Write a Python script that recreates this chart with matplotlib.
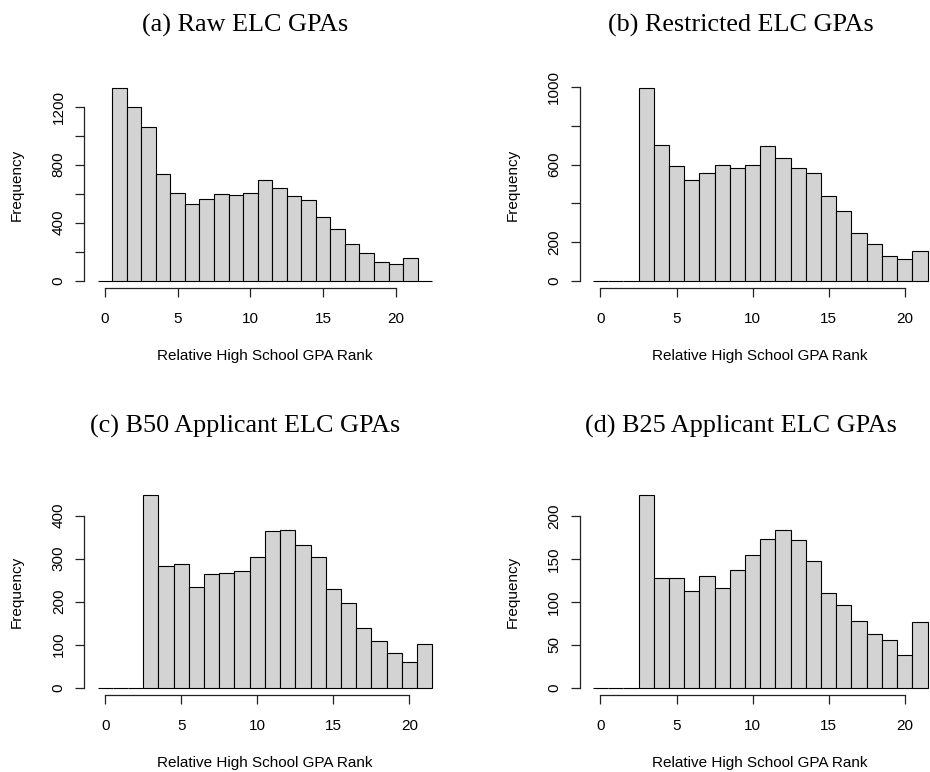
import numpy as np
import matplotlib
matplotlib.use("Agg")
import matplotlib.pyplot as plt

plt.rcParams.update({"font.family": "Liberation Sans", "font.size": 11,
                     "axes.linewidth": 0.9})

# bin centres (rank) and counts
ranks_raw = list(range(0, 23))
raw_counts = [0, 1326, 1200, 1062, 738, 605, 529, 561, 600, 591, 605, 694,
              637, 584, 554, 437, 359, 251, 191, 131, 113, 154, 0]

ranks_sub = list(range(0, 22))
restricted_counts = [0, 0, 0, 995, 703, 591, 522, 556, 598, 582, 601, 698,
                     634, 582, 556, 437, 359, 247, 190, 128, 111, 152]
b50_counts = [0, 0, 0, 447, 284, 287, 234, 264, 266, 271, 303, 364,
              367, 331, 305, 230, 196, 140, 109, 81, 60, 102]
b25_counts = [0, 0, 0, 224, 128, 128, 113, 130, 116, 137, 155, 173,
              184, 172, 148, 110, 96, 78, 63, 56, 38, 77]

titles = ["(a) Raw ELC GPAs", "(b) Restricted ELC GPAs",
          "(c) B50 Applicant ELC GPAs", "(d) B25 Applicant ELC GPAs"]
x_ticks = [0, 5, 10, 15, 20]
y_ticks = [[0, 200, 400, 600, 800, 1000, 1200],
           [0, 200, 400, 600, 800, 1000],
           [0, 100, 200, 300, 400],
           [0, 50, 100, 150, 200]]
y_labels = [["0", "", "400", "", "800", "", "1200"],
            ["0", "200", "", "600", "", "1000"],
            ["0", "100", "200", "300", "400"],
            ["0", "50", "100", "150", "200"]]

W, H = 930, 772
fig = plt.figure(figsize=(W / 100, H / 100), dpi=100)

# axes boxes in pixels: left, top, width, height (right column runs past the crop)
boxes = [(84.2, 80.7, 361.4, 207.7), (579.5, 80.7, 361.4, 207.7),
         (84.2, 487.8, 361.4, 207.6), (579.5, 487.8, 361.4, 207.6)]
title_pos = [(245.5, 25), (741, 25), (245, 426), (740.5, 426)]

panels = [(ranks_raw, raw_counts), (ranks_sub, restricted_counts),
          (ranks_sub, b50_counts), (ranks_sub, b25_counts)]

for i, (ranks, counts) in enumerate(panels):
    l, t, w, h = boxes[i]
    ax = fig.add_axes([l / W, 1 - (t + h) / H, w / W, h / H])
    ax.bar(ranks, counts, width=1.0, color="#d3d3d3", edgecolor="black",
           linewidth=0.8, align="center")
    # R-style 4% padding around the range
    lo, hi = ranks[0] - 0.5, ranks[-1] + 0.5
    ax.set_xlim(lo - 0.04 * (hi - lo), hi + 0.04 * (hi - lo))
    top = max(counts)
    ax.set_ylim(-0.04 * top, 1.04 * top)

    ax.spines[["top", "right"]].set_visible(False)
    ax.spines["left"].set_bounds(y_ticks[i][0], y_ticks[i][-1])
    ax.spines["bottom"].set_bounds(x_ticks[0], x_ticks[-1])
    for s in ("left", "bottom"):
        ax.spines[s].set_color("#222222")
    ax.set_xticks(x_ticks)
    ax.set_yticks(y_ticks[i])
    ax.set_yticklabels(y_labels[i], rotation=90, va="center")
    ax.tick_params(axis="both", length=6.3, width=0.9, color="#222222",
                   labelsize=11)
    ax.tick_params(axis="x", pad=10.5)
    ax.tick_params(axis="y", pad=6.9)

    ax.annotate("Frequency", xy=(0, 0.5), xycoords="axes fraction",
                xytext=(-67 * 0.72, 0), textcoords="offset points",
                rotation=90, ha="center", va="center", fontsize=11)
    ax.annotate("Relative High School GPA Rank", xy=(0.5, 0),
                xycoords="axes fraction", xytext=(0, -68 * 0.72),
                textcoords="offset points", ha="center", va="center",
                fontsize=11)

    tx, ty = title_pos[i]
    fig.text(tx / W, 1 - ty / H, titles[i], ha="center", va="center",
             fontsize=18.8, family="Liberation Serif")

fig.savefig("out.png", dpi=100)
